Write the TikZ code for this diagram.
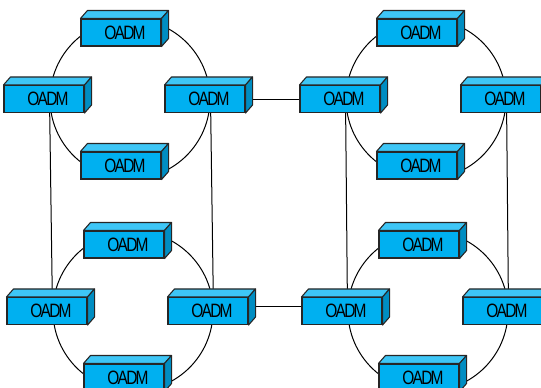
\documentclass[tikz,border=0pt]{standalone}
\usepackage{fontspec}
\usepackage{xcolor}
\usepackage{tikz}
\usetikzlibrary{calc}
\newfontfamily\oadmfont{Liberation Sans}[FakeStretch=0.8,LetterSpace=-9.0]
\definecolor{oadmblue}{HTML}{00B0F0}
\definecolor{oadmlight}{HTML}{3EC6F6}
\definecolor{oadmdark}{HTML}{008DC2}
\tikzstyle{ring} = [draw=black, circle, line width=0.75pt, minimum size=120pt, inner sep=0pt]
\tikzstyle{link} = [draw=black, line width=0.75pt]
\tikzstyle{oadmfront} = [draw=black!85, fill=oadmblue, line width=0.8pt, rectangle,
minimum width=60pt, minimum height=20.25pt, inner sep=0pt,
font=\oadmfont\fontsize{14.5}{16}\selectfont]
\tikzstyle{oadmtop} = [draw=black!85, fill=oadmlight, line width=0.8pt, line join=round]
\tikzstyle{oadmside} = [draw=black!85, fill=oadmdark, line width=0.8pt, line join=round]
\newcommand{\oadm}[2]{%
\node [oadmfront] (#1) at (#2) {\hspace*{6pt}OADM};
\filldraw [oadmtop] (#1.north west) -- ++(7,-8) -- ($(#1.north east)+(7,-8)$)
    -- (#1.north east) -- cycle;
\filldraw [oadmside] (#1.north east) -- ++(7,-8) -- ($(#1.south east)+(7,-8)$)
    -- (#1.south east) -- cycle;
}

\begin{document}
\begin{tikzpicture}[x=0.75pt, y=-0.75pt]
        \useasboundingbox (0,0) rectangle (541,387);
        % rings
        \node [ring] (tlring) at (130,99) {};
        \node [ring] (trring) at (426,99) {};
        \node [ring] (blring) at (133,311) {};
        \node [ring] (brring) at (428,311) {};
        % links between rings
        \draw [link] (tlring.west) -- (blring.west);
        \draw [link] (tlring.east) -- (blring.east);
        \draw [link] (trring.west) -- (brring.west);
        \draw [link] (trring.east) -- (brring.east);
        \draw [link] (tlring.east) -- (trring.west);
        \draw [link] ($(blring.east)+(0,-5)$) -- ($(brring.west)+(0,-5)$);
        % nodes
        \foreach \r in {tl,tr,bl,br}{
            \oadm{\r n}{$(\r ring.north)+(-9,14)$}
            \oadm{\r w}{$(\r ring.west)+(-5.5,0)$}
            \oadm{\r e}{$(\r ring.east)+(-5.5,0)$}
            \oadm{\r s}{$(\r ring.south)+(-9,-14)$}
        }
    \end{tikzpicture}
\end{document}
